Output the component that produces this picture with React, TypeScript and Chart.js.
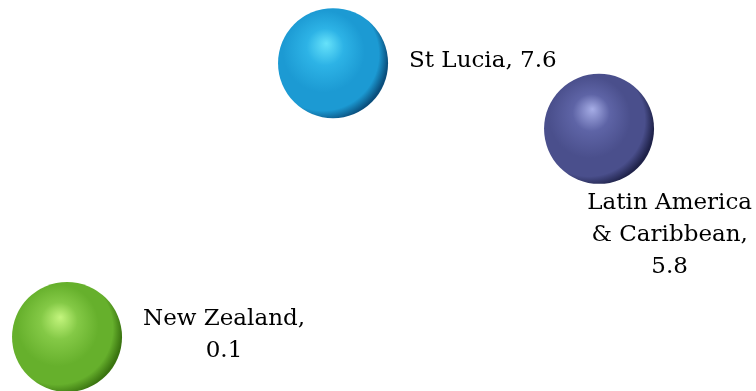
import React, { useEffect, useRef } from "react";
import { Chart, registerables } from "chart.js";

Chart.register(...registerables);

// ---- data ----
const categories: string[] = ["New Zealand", "St Lucia", "Latin America & Caribbean"];
const xPositions: number[] = [1, 2, 3];
const values: number[] = [0.1, 7.6, 5.8];

// ---- label layout (style) ----
const labelPlacement: string[] = ["right", "right", "below"];
const labelShiftX: number[] = [0, 0, 71];

// ---- styles ----
const palette = [
  { hi: "#c4f57e", mid: "#84c946", base: "#66b02c", edge: "#3a7410" },
  { hi: "#66e2fa", mid: "#2db3e6", base: "#1c9ad3", edge: "#0a4e7c" },
  { hi: "#a6ade6", mid: "#5e64a6", base: "#4a4f8c", edge: "#1f2249" },
];
const BUBBLE_R = 55;
const FONT = "23px 'DejaVu Serif'";
const LINE_H = 32;
const WRAP_W = 180;

function wrap(ctx: CanvasRenderingContext2D, text: string, maxW: number): string[] {
  const words = text.split(" ");
  const lines: string[] = [];
  let cur = "";
  for (const w of words) {
    const test = cur ? cur + " " + w : w;
    if (cur && ctx.measureText(test).width > maxW) {
      lines.push(cur);
      cur = w;
    } else {
      cur = test;
    }
  }
  if (cur) lines.push(cur);
  return lines;
}

const labelPlugin = {
  id: "bubbleLabels",
  afterDatasetsDraw(chart: any) {
    const ctx: CanvasRenderingContext2D = chart.ctx;
    const meta = chart.getDatasetMeta(0);
    ctx.save();
    ctx.font = FONT;
    ctx.fillStyle = "#000";
    ctx.textBaseline = "middle";
    ctx.textAlign = "center";
    meta.data.forEach((el: any, i: number) => {
      const text = categories[i] + ", " + values[i];
      const lines = wrap(ctx, text, WRAP_W);
      const widths = lines.map((l) => ctx.measureText(l).width);
      const blockW = Math.max(...widths);
      const r = el.options.radius;
      let cx: number;
      let firstY: number;
      if (labelPlacement[i] === "below") {
        cx = el.x + labelShiftX[i];
        cx = Math.min(cx, chart.width - 4 - blockW / 2);
        firstY = el.y + r + 19;
      } else {
        cx = el.x + r + 21 + blockW / 2 + labelShiftX[i];
        firstY = el.y - ((lines.length - 1) * LINE_H) / 2 - 2;
      }
      lines.forEach((l, k) => ctx.fillText(l, cx, firstY + k * LINE_H));
    });
    ctx.restore();
  },
};

export default function App() {
  const ref = useRef<HTMLCanvasElement | null>(null);
  useEffect(() => {
    if (!ref.current) return;
    const chart = new Chart(ref.current, {
      type: "bubble",
      data: {
        datasets: [
          {
            label: "Values",
            data: xPositions.map((x, i) => ({ x, y: values[i] })),
            radius: BUBBLE_R,
            hoverRadius: 0,
            borderWidth: 0,
            clip: false,
            backgroundColor: (c: any) => {
              const p = palette[(c.dataIndex ?? 0) % palette.length];
              if (c.type !== "data" || !c.raw) return p.base;
              const chart = c.chart;
              const xs = chart.scales && chart.scales.x;
              const ys = chart.scales && chart.scales.y;
              if (!xs || !ys) return p.base;
              const raw = c.raw;
              const px = xs.getPixelForValue(raw.x);
              const py = ys.getPixelForValue(raw.y);
              if (!Number.isFinite(px) || !Number.isFinite(py)) return p.base;
              const r = BUBBLE_R;
              const g = chart.ctx.createRadialGradient(
                px - 0.12 * r, py - 0.36 * r, 0,
                px - 0.2 * r, py - 0.12 * r, 1.2 * r
              );
              g.addColorStop(0, p.hi);
              g.addColorStop(0.28, p.mid);
              g.addColorStop(0.62, p.base);
              g.addColorStop(0.85, p.base);
              g.addColorStop(1, p.edge);
              return g;
            },
          } as any,
        ],
      },
      options: {
        animation: false,
        responsive: false,
        events: [],
        layout: { padding: 0, autoPadding: false },
        plugins: {
          legend: { display: false },
          tooltip: { enabled: false },
        },
        scales: {
          x: { type: "linear", display: false, min: 0.748, max: 3.59 },
          y: { type: "linear", display: false, min: -1.38, max: 9.33 },
        },
      },
      plugins: [labelPlugin],
    });
    return () => chart.destroy();
  }, []);
  return (
    <div style={{ position: "absolute", left: 0, top: 0, width: 756, height: 391, background: "#fff" }}>
      <canvas ref={ref} width={756} height={391} style={{ display: "block" }} />
    </div>
  );
}
